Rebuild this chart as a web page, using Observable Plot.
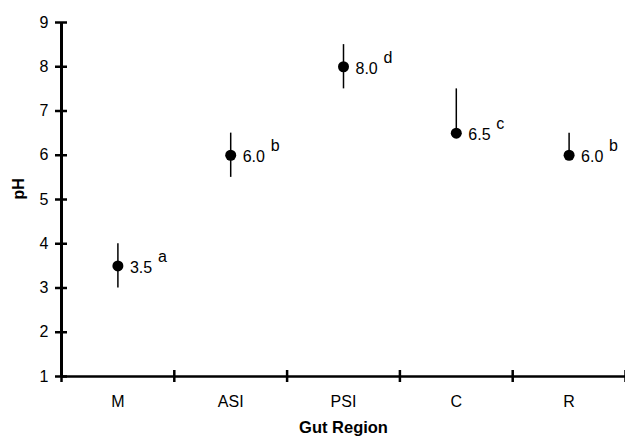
<!DOCTYPE html>
<html>
<head>
<meta charset="utf-8">
<script src="https://cdn.jsdelivr.net/npm/d3@7"></script>
<script src="https://cdn.jsdelivr.net/npm/@observablehq/plot@0.6"></script>
<style>
  html, body { margin: 0; padding: 0; background: #fff; }
</style>
</head>
<body>
<div id="chart"></div>
<script>
const categories = ["M", "ASI", "PSI", "C", "R"];
const means = [3.5, 6.0, 8.0, 6.5, 6.0];
const lows = [3.0, 5.5, 7.5, 6.5, 6.0];
const highs = [4.0, 6.5, 8.5, 7.5, 6.5];
const letters = ["a", "b", "d", "c", "b"];
const yTicks = [1, 2, 3, 4, 5, 6, 7, 8, 9];
const xLabel = "Gut Region";
const yLabel = "pH";

const data = categories.map((c, i) => ({
  cat: c, pos: i + 0.5, mean: means[i], lo: lows[i], hi: highs[i],
  label: means[i].toFixed(1), letter: letters[i]
}));
const bounds = d3.range(0, categories.length + 1);

const chart = Plot.plot({
  width: 625,
  height: 438,
  marginLeft: 61,
  marginRight: 0,
  marginTop: 22,
  marginBottom: 62,
  style: { fontFamily: "Liberation Sans, Arial, sans-serif", fontSize: "16px", background: "#fff", color: "#000" },
  x: { type: "linear", domain: [0, categories.length], axis: null },
  y: { domain: [1, 9], axis: null },
  marks: [
    // axis lines
    Plot.ruleY([1], { x1: 0, x2: categories.length, stroke: "#000", strokeWidth: 2.5 }),
    Plot.ruleX([0], { y1: 1, y2: 9, stroke: "#000", strokeWidth: 3 }),
    // crossing tick marks
    Plot.ruleY(yTicks, { y: d => d, x1: 0, x2: 0, insetLeft: -6, insetRight: -6, stroke: "#000", strokeWidth: 2.5 }),
    Plot.ruleX(bounds, { x: d => d, y1: 1, y2: 1, insetTop: -6, insetBottom: -6, stroke: "#000", strokeWidth: 2.5 }),
    // tick labels
    Plot.axisY({ ticks: yTicks, tickSize: 0, tickPadding: 13, fontSize: 16, label: null }),
    Plot.axisX({ ticks: data.map(d => d.pos), tickFormat: (d) => categories[Math.floor(d)], tickSize: 0, tickPadding: 19, fontSize: 16, label: null }),
    // error bars
    Plot.ruleX(data, { x: "pos", y1: "lo", y2: "hi", stroke: "#000", strokeWidth: 1.5 }),
    // points
    Plot.dot(data, { x: "pos", y: "mean", r: 5.5, fill: "#000", stroke: "none" }),
    // value labels
    Plot.text(data, { x: "pos", y: "mean", text: "label", textAnchor: "start", dx: 12, dy: 2, fontSize: 16, fill: "#000" }),
    Plot.text(data, { x: "pos", y: "mean", text: "letter", textAnchor: "start", dx: 40, dy: -9, fontSize: 16, fill: "#000" }),
    // axis titles
    Plot.text([xLabel], { frameAnchor: "bottom", dy: 56, fontSize: 16.5, fontWeight: "bold", fill: "#000" }),
    Plot.text([yLabel], { frameAnchor: "left", dx: -43, rotate: -90, fontSize: 16, fontWeight: "bold", fill: "#000" })
  ]
});
document.getElementById("chart").appendChild(chart);
</script>
</body>
</html>
